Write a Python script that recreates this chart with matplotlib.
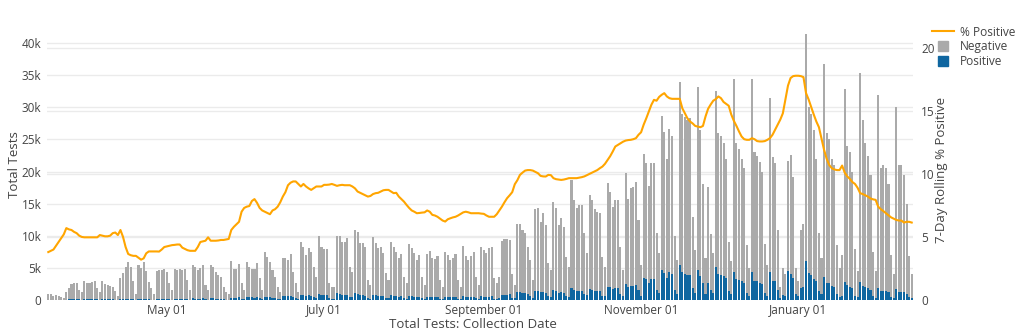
"""Daily tests (stacked positive / negative) with 7-day rolling % positive"""
import matplotlib
matplotlib.use('Agg')
import matplotlib.pyplot as plt
import matplotlib.dates as mdates
import matplotlib.transforms as mtrans
from matplotlib.lines import Line2D
import numpy as np
import pandas as pd

plt.rcParams['font.family'] = ['Open Sans', 'DejaVu Sans']

START = "2020-03-16"   # a Monday; one row per week below

# total tests per day, in thousands (positive + negative)
TOTAL_K = [
    0.9, 0.9, 0.6, 0.8, 0.7, 0.5, 0.3,
    1.2, 1.9, 2.5, 2.7, 2.6, 1.6, 1.2,
    2.9, 2.7, 2.7, 2.8, 3.0, 1.9, 1.2,
    2.9, 2.5, 2.3, 2.2, 2.1, 1.4, 0.6,
    3.4, 4.2, 5.2, 5.9, 5.2, 2.9, 1.0,
    5.5, 5.0, 5.9, 4.5, 2.8, 1.8, 1.0,
    4.5, 4.7, 4.7, 4.8, 4.4, 2.6, 1.5,
    4.9, 4.7, 4.9, 4.6, 4.8, 3.1, 1.6,
    5.5, 5.2, 4.7, 5.0, 5.5, 2.4, 1.6,
    5.5, 5.2, 4.4, 3.9, 3.6, 2.1, 1.3,
    1.0, 6.0, 4.9, 4.9, 5.6, 2.6, 1.6,
    5.9, 5.2, 4.9, 4.8, 5.8, 3.4, 1.6,
    7.5, 6.7, 5.9, 4.7, 3.6, 2.1, 1.3,
    6.5, 6.5, 6.2, 7.1, 4.4, 2.6, 1.3,
    9.1, 8.3, 7.0, 8.1, 7.4, 5.2, 3.6,
    9.9, 8.3, 7.9, 7.9, 2.6, 2.1, 2.1,
    10.0, 10.0, 9.1, 9.0, 9.7, 5.2, 4.4,
    10.9, 10.6, 8.8, 8.8, 8.3, 3.1, 2.3,
    9.8, 8.8, 8.1, 8.3, 7.3, 4.2, 3.1,
    9.0, 8.3, 7.5, 6.5, 7.2, 3.6, 2.6,
    8.7, 8.1, 7.3, 6.2, 7.0, 3.6, 2.4,
    7.2, 7.7, 6.5, 6.4, 6.8, 3.1, 2.1,
    7.4, 7.0, 6.2, 6.6, 7.1, 3.1, 2.1,
    8.4, 6.8, 6.2, 6.8, 7.5, 3.6, 2.4,
    8.2, 7.8, 7.3, 8.1, 8.2, 3.4, 2.6,
    3.6, 9.2, 9.5, 9.5, 9.4, 4.0, 2.4,
    11.9, 11.8, 10.9, 10.4, 8.3, 6.2, 3.1,
    14.1, 14.3, 12.2, 13.5, 11.7, 5.7, 4.7,
    15.3, 14.3, 11.7, 12.7, 11.4, 6.7, 5.2,
    18.7, 15.6, 14.3, 14.8, 14.8, 10.4, 7.3,
    16.4, 15.6, 14.1, 13.7, 13.5, 6.7, 5.2,
    18.2, 16.8, 14.5, 15.6, 15.6, 8.3, 4.7,
    19.8, 15.8, 17.5, 17.6, 18.4, 12.5, 5.5,
    22.7, 21.3, 17.8, 21.3, 21.4, 10.4, 7.3,
    28.6, 26.1, 22.0, 26.7, 25.5, 9.9, 6.2,
    34.0, 29.0, 28.5, 28.0, 28.3, 13.0, 7.8,
    33.2, 26.5, 18.0, 6.5, 17.6, 10.3, 7.3,
    32.6, 26.0, 25.5, 24.5, 22.0, 9.0, 6.0,
    34.4, 24.5, 23.5, 22.0, 20.5, 8.5, 5.0,
    34.4, 23.0, 22.5, 21.5, 20.0, 8.7, 5.5,
    31.4, 22.3, 21.3, 10.9, 2.0, 5.0, 4.0,
    21.6, 22.6, 19.2, 5.0, 3.0, 10.9, 11.9,
    41.4, 30.0, 29.0, 26.5, 22.0, 10.5, 6.5,
    36.7, 26.0, 25.0, 22.0, 21.0, 8.5, 5.0,
    7.0, 32.8, 24.0, 23.0, 20.0, 8.0, 4.5,
    35.4, 28.0, 24.5, 22.5, 19.5, 7.5, 4.5,
    31.9, 20.5, 21.0, 20.5, 18.0, 7.0, 4.0,
    30.1, 21.0, 21.0, 19.5, 15.0, 6.8, 4.0,
]

# positive tests per day, in thousands
POSITIVE_K = [
    0.04, 0.04, 0.02, 0.03, 0.03, 0.02, 0.01,
    0.07, 0.10, 0.14, 0.15, 0.14, 0.09, 0.06,
    0.15, 0.13, 0.13, 0.14, 0.15, 0.09, 0.06,
    0.15, 0.13, 0.12, 0.11, 0.11, 0.07, 0.03,
    0.19, 0.21, 0.22, 0.21, 0.18, 0.10, 0.04,
    0.18, 0.16, 0.20, 0.17, 0.11, 0.07, 0.04,
    0.18, 0.19, 0.20, 0.21, 0.19, 0.11, 0.07,
    0.21, 0.20, 0.20, 0.19, 0.20, 0.12, 0.06,
    0.24, 0.23, 0.21, 0.23, 0.26, 0.11, 0.07,
    0.26, 0.25, 0.21, 0.19, 0.17, 0.10, 0.06,
    0.06, 0.33, 0.29, 0.31, 0.39, 0.19, 0.12,
    0.45, 0.41, 0.39, 0.37, 0.44, 0.25, 0.11,
    0.53, 0.46, 0.41, 0.33, 0.26, 0.15, 0.10,
    0.58, 0.60, 0.60, 0.68, 0.42, 0.24, 0.12,
    0.85, 0.78, 0.64, 0.72, 0.66, 0.46, 0.33,
    1.00, 0.80, 0.72, 0.72, 0.24, 0.19, 0.20,
    1.10, 0.95, 0.83, 0.80, 0.85, 0.45, 0.40,
    1.05, 0.90, 0.72, 0.72, 0.66, 0.25, 0.20,
    0.85, 0.75, 0.70, 0.68, 0.60, 0.35, 0.26,
    0.78, 0.68, 0.60, 0.52, 0.56, 0.28, 0.20,
    0.62, 0.56, 0.50, 0.43, 0.48, 0.25, 0.17,
    0.50, 0.52, 0.43, 0.42, 0.45, 0.20, 0.14,
    0.50, 0.45, 0.40, 0.42, 0.46, 0.20, 0.13,
    0.60, 0.47, 0.43, 0.46, 0.52, 0.25, 0.16,
    0.58, 0.53, 0.49, 0.54, 0.55, 0.23, 0.17,
    0.30, 0.75, 0.82, 0.85, 0.88, 0.38, 0.24,
    1.30, 1.25, 1.15, 1.10, 0.86, 0.65, 0.33,
    1.45, 1.40, 1.20, 1.30, 1.15, 0.58, 0.48,
    1.50, 1.40, 1.10, 1.20, 1.10, 0.65, 0.50,
    1.85, 1.50, 1.40, 1.45, 1.45, 1.00, 0.72,
    1.70, 1.60, 1.45, 1.42, 1.40, 0.70, 0.55,
    2.10, 2.00, 1.75, 1.90, 1.90, 1.00, 0.60,
    2.50, 2.00, 2.25, 2.25, 2.35, 1.60, 0.70,
    3.50, 3.20, 2.70, 3.20, 3.20, 1.60, 1.10,
    4.70, 4.20, 3.50, 4.30, 4.10, 1.60, 1.00,
    5.40, 4.40, 4.00, 3.90, 3.90, 1.90, 1.10,
    4.70, 3.80, 2.60, 1.00, 2.70, 1.60, 1.10,
    5.20, 4.00, 3.90, 3.80, 3.40, 1.40, 0.95,
    4.40, 3.20, 3.10, 2.90, 2.70, 1.10, 0.65,
    4.40, 2.90, 2.90, 2.70, 2.50, 1.10, 0.70,
    4.30, 3.00, 3.00, 1.60, 0.35, 0.80, 0.70,
    4.50, 4.00, 3.50, 0.90, 0.55, 1.90, 2.10,
    6.00, 4.20, 3.90, 3.20, 2.90, 1.40, 0.90,
    3.60, 2.70, 2.60, 2.20, 2.10, 0.90, 0.50,
    0.70, 2.80, 2.30, 2.10, 1.80, 0.70, 0.40,
    2.80, 2.20, 1.95, 1.80, 1.55, 0.60, 0.35,
    1.90, 1.40, 1.45, 1.40, 1.25, 0.50, 0.30,
    1.70, 1.30, 1.30, 1.20, 0.95, 0.45, 0.28,
]

# 7-day rolling % positive
PCT_POSITIVE = [
    3.8, 3.9, 4.0, 4.3, 4.6, 4.9, 5.2,
    5.7, 5.6, 5.55, 5.4, 5.3, 5.1, 5.0,
    4.97, 4.97, 4.97, 4.97, 4.97, 4.97, 5.15,
    5.1, 5.05, 5.05, 5.1, 5.3, 5.35, 5.15,
    5.55, 5.0, 4.2, 3.65, 3.55, 3.5, 3.5,
    3.35, 3.2, 3.3, 3.7, 3.85, 3.85, 3.85,
    3.85, 3.84, 4.0, 4.2, 4.25, 4.3, 4.35,
    4.37, 4.4, 4.4, 4.15, 4.05, 3.95, 3.9,
    3.9, 3.9, 4.2, 4.6, 4.65, 4.7, 4.97,
    4.7, 4.7, 4.7, 4.72, 4.76, 4.76, 4.8,
    4.84, 5.55, 5.8, 6.0, 6.2, 7.0, 7.3,
    7.4, 7.45, 7.85, 8.0, 7.7, 7.3, 7.1,
    7.0, 6.9, 6.8, 7.1, 7.2, 7.4, 7.75,
    8.2, 8.55, 9.1, 9.3, 9.4, 9.4, 9.2,
    9.0, 9.2, 9.0, 8.85, 8.73, 8.86, 9.0,
    9.0, 9.0, 9.13, 9.13, 9.15, 9.2, 9.13,
    9.05, 9.1, 9.13, 9.1, 9.1, 9.1, 9.0,
    8.85, 8.6, 8.5, 8.4, 8.3, 8.2, 8.25,
    8.4, 8.47, 8.5, 8.6, 8.7, 8.73, 8.73,
    8.6, 8.47, 8.5, 8.2, 8.0, 7.8, 7.54,
    7.3, 7.1, 7.0, 6.88, 6.9, 6.93, 6.95,
    7.1, 7.0, 6.75, 6.7, 6.6, 6.45, 6.3,
    6.22, 6.4, 6.48, 6.55, 6.6, 6.7, 6.83,
    6.95, 7.0, 6.95, 6.88, 6.88, 6.88, 6.88,
    6.85, 6.83, 6.7, 6.6, 6.6, 6.6, 6.8,
    7.1, 7.4, 7.75, 8.07, 8.3, 8.55, 9.18,
    9.5, 9.92, 10.1, 10.26, 10.3, 10.3, 10.26,
    10.15, 10.05, 9.84, 9.8, 9.79, 9.92, 9.9,
    9.66, 9.58, 9.55, 9.52, 9.55, 9.6, 9.66,
    9.66, 9.66, 9.66, 9.7, 9.74, 9.8, 9.9,
    10.0, 10.1, 10.2, 10.3, 10.45, 10.58, 10.8,
    11.1, 11.4, 11.77, 12.17, 12.3, 12.43, 12.55,
    12.64, 12.68, 12.7, 12.75, 12.83, 13.1, 13.3,
    13.9, 14.4, 14.95, 15.48, 15.87, 15.8, 16.1,
    16.27, 16.4, 16.14, 16.0, 15.95, 15.95, 15.95,
    15.95, 15.2, 14.8, 14.4, 14.15, 14.0, 13.8,
    13.75, 13.7, 13.8, 14.55, 15.16, 15.5, 15.8,
    15.93, 16.14, 16.0, 15.7, 15.55, 15.4, 14.7,
    14.2, 13.8, 13.36, 12.96, 12.75, 12.7, 12.7,
    12.83, 12.75, 12.6, 12.57, 12.57, 12.6, 12.7,
    12.83, 13.1, 13.5, 13.9, 14.3, 14.8, 15.9,
    17.0, 17.6, 17.75, 17.78, 17.78, 17.75, 17.67,
    16.4, 15.9, 15.3, 14.7, 14.15, 13.7, 12.8,
    11.9, 11.2, 10.7, 10.45, 10.35, 10.3, 10.3,
    10.66, 10.1, 9.8, 9.6, 9.35, 9.2, 8.9,
    8.47, 8.4, 8.3, 8.2, 8.05, 7.98, 7.94,
    7.4, 7.2, 7.05, 6.88, 6.7, 6.55, 6.45,
    6.35, 6.3, 6.3, 6.14, 6.2, 6.2, 6.14,
]

TICK_DATES = ["2020-05-01", "2020-07-01", "2020-09-01", "2020-11-01", "2021-01-01"]

GREY = "#aaaaaa"
BLUE = "#0f66a0"
ORANGE = "#ffa500"
TXT = "#444444"
GRID = "#ebebeb"

dates = pd.date_range(START, periods=len(TOTAL_K), freq="D")
total = np.array(TOTAL_K)
pos = np.array(POSITIVE_K)
neg = total - pos

fig = plt.figure(figsize=(10.24, 3.32), dpi=100)
ax = fig.add_axes([47 / 1024, 32 / 332, 866 / 1024, 280 / 332])
ax2 = ax.twinx()

ax.bar(dates, pos, width=0.8, color=BLUE, zorder=2, linewidth=0)
ax.bar(dates, neg, width=0.8, bottom=pos, color=GREY, zorder=2, linewidth=0)

ax.set_ylim(0, 43.6)
ax2.set_ylim(0, 22.2)
ax.set_xlim(dates[0] - pd.Timedelta(hours=12), dates[-1] + pd.Timedelta(hours=12))

# grid lines for both y axes, kept underneath the bars
for v in range(0, 45, 5):
    ax.axhline(v, color=GRID, linewidth=1, zorder=0)
blend = mtrans.blended_transform_factory(ax.transAxes, ax2.transData)
for v in range(5, 25, 5):
    ax.plot([0, 1], [v, v], transform=blend, color=GRID, linewidth=1, zorder=0)

ax2.plot(dates, PCT_POSITIVE, color=ORANGE, linewidth=1.5, zorder=3)

left_ticks = list(range(0, 45, 5))
ax.set_yticks(left_ticks)
ax.set_yticklabels(["0"] + [f"{t}k" for t in left_ticks[1:]])
ax2.set_yticks([0, 5, 10, 15, 20])
ax.set_xticks(pd.to_datetime(TICK_DATES))
ax.xaxis.set_major_formatter(mdates.DateFormatter("%B %d"))

for a in (ax, ax2):
    for s in a.spines.values():
        s.set_visible(False)
    a.tick_params(length=0, labelsize=8.5, labelcolor=TXT)
ax.tick_params(axis="y", pad=4)
ax.tick_params(axis="x", pad=3)
ax2.tick_params(axis="y", pad=6)

fig.text(15 / 1024, 1 - 165 / 332, "Total Tests", rotation=90, ha="center", va="center",
         fontsize=9.5, color=TXT)
fig.text(942 / 1024, 1 - 170 / 332, "7-Day Rolling % Positive", rotation=90, ha="center",
         va="center", fontsize=9.5, color=TXT)
fig.text(473 / 1024, 1 - 325 / 332, "Total Tests: Collection Date", ha="center", va="center",
         fontsize=9.5, color=TXT)

handles = [
    Line2D([], [], color=ORANGE, linewidth=1.5),
    Line2D([], [], color=GREY, marker="s", markersize=7.5, linestyle="none"),
    Line2D([], [], color=BLUE, marker="s", markersize=7.5, linestyle="none"),
]
fig.legend(handles, ["% Positive", "Negative", "Positive"], loc="upper left",
           bbox_to_anchor=(928 / 1024, 1 - 22 / 332), frameon=False, fontsize=8.6,
           handlelength=1.9, labelspacing=0.15, handletextpad=0.45, labelcolor=TXT,
           borderaxespad=0, borderpad=0.3)

fig.savefig("out.png", dpi=100, facecolor="white")
